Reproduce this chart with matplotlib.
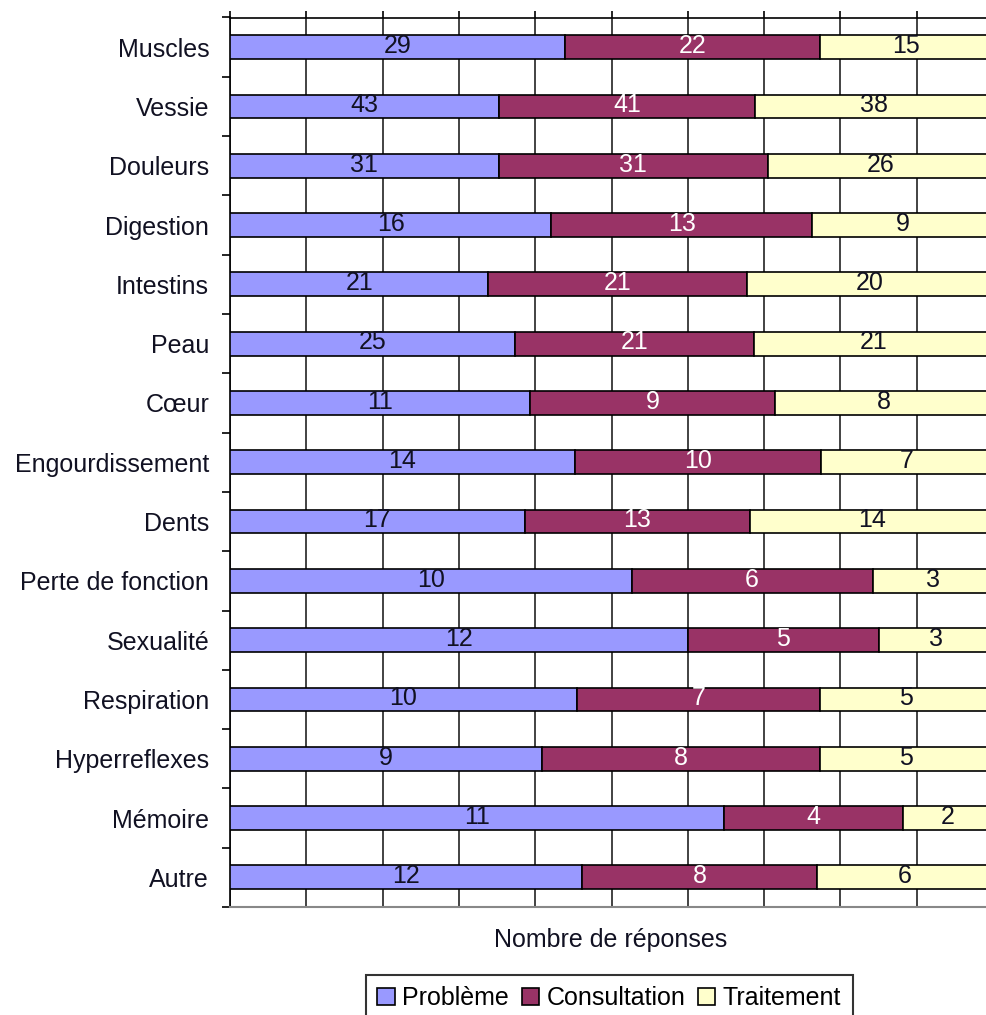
import numpy as np
import matplotlib
matplotlib.use("Agg")
import matplotlib.pyplot as plt
from matplotlib.patches import Patch

plt.rcParams["font.family"] = ["Liberation Sans", "DejaVu Sans"]

# survey answers per topic (counts)
categories = [
    "Muscles", "Vessie", "Douleurs", "Digestion", "Intestins", "Peau", "Cœur",
    "Engourdissement", "Dents", "Perte de fonction", "Sexualité", "Respiration",
    "Hyperreflexes", "Mémoire", "Autre",
]
probleme = [29, 43, 31, 16, 21, 25, 11, 14, 17, 10, 12, 10, 9, 11, 12]
consultation = [22, 41, 31, 13, 21, 21, 9, 10, 13, 6, 5, 7, 8, 4, 8]
traitement = [15, 38, 26, 9, 20, 21, 8, 7, 14, 3, 3, 5, 5, 2, 6]
series_names = ["Problème", "Consultation", "Traitement"]
colors = ["#9999FF", "#993366", "#FFFFCC"]
text_colors = ["#111122", "white", "#111122"]

FS = 18

series = np.array([probleme, consultation, traitement], dtype=float)
totals = series.sum(axis=0)
shares = series / totals

fig = plt.figure(figsize=(9.86, 10.15), dpi=100)
# the 100% mark sits just past the right edge of the image
ax = fig.add_axes([230 / 986, 1 - 907 / 1015, 763 / 986, (907 - 17.5) / 1015])

y = np.arange(len(categories))
left = np.zeros(len(categories))
for k in range(3):
    bars = ax.barh(y, shares[k], left=left, height=0.4, color=colors[k],
                   edgecolor="black", linewidth=1.2, zorder=3)
    for j, b in enumerate(bars):
        ax.text(left[j] + shares[k][j] / 2, y[j] - 0.02, str(int(series[k][j])),
                ha="center", va="center", fontsize=FS, color=text_colors[k],
                zorder=4)
    left += shares[k]

ax.set_xlim(0, 1)
ax.set_ylim(len(categories) - 0.5, -0.5)
ax.set_xticks(np.arange(0, 1.01, 0.1))
ax.grid(axis="x", color="#222222", linewidth=1.2, zorder=0)
ax.tick_params(axis="x", top=True, bottom=False, labeltop=False,
               labelbottom=False, direction="out", length=5, width=1.2)

ax.set_yticks(y)
ax.set_yticklabels(categories, fontsize=FS, color="#111122")
ax.set_yticks(np.arange(-0.5, len(categories), 1), minor=True)
ax.tick_params(axis="y", which="major", length=0, pad=15)
ax.tick_params(axis="y", which="minor", length=6, width=1.2, direction="out")

ax.spines["right"].set_visible(False)
ax.spines["top"].set_linewidth(1.2)
ax.spines["left"].set_linewidth(1.2)
ax.spines["bottom"].set_color("#888888")
ax.spines["bottom"].set_linewidth(1.5)

fig.text(611 / 986, 1 - 940 / 1015, "Nombre de réponses", ha="center",
         va="center", fontsize=FS, color="#111122")

handles = [Patch(facecolor=c, edgecolor="black", linewidth=1.2) for c in colors]
leg = fig.legend(handles, series_names, loc="upper center", ncol=3,
                 bbox_to_anchor=(0.618, 1 - 975 / 1015), fontsize=FS,
                 frameon=True, fancybox=False, edgecolor="black",
                 handlelength=0.7, handleheight=0.7, handletextpad=0.3,
                 columnspacing=0.5, borderpad=0.45, borderaxespad=0)
leg.get_frame().set_linewidth(1.5)

fig.savefig("out.png", dpi=100)
